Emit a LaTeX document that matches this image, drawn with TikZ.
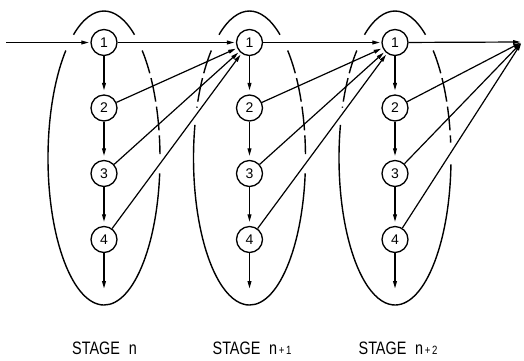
\documentclass[tikz,border=0pt]{standalone}
\usepackage{fontspec}
\setmainfont{Liberation Sans}
\usetikzlibrary{arrows.meta,calc}
\begin{document}
\begin{tikzpicture}[x=1pt,y=-1pt,
  state/.style={circle,draw,fill=white,minimum size=26pt,inner sep=0pt,
    line width=1.3pt,font=\fontsize{14}{14}\selectfont},
  flow/.style={line width=1.2pt,-{Triangle[length=7.5pt,width=3.8pt]},shorten >=1.5pt},
  down/.style={flow,shorten >=4pt},
  loopline/.style={line width=1.4pt},
  hidden/.style={loopline,dash pattern=on 24pt off 5pt},
  stagelabel/.style={font=\fontsize{18}{18}\selectfont}
]
\useasboundingbox (0,0) rectangle (524,360);

% stage loops: solid top arc, solid front part, dashed part behind the arrow fan
% stage n
\draw[loopline] (104,158) ++(-123:56 and 147) arc[start angle=-123,end angle=-57,x radius=56,y radius=147];
\draw[loopline] (104,158) ++(6:56 and 147) arc[start angle=6,end angle=227,x radius=56,y radius=147];
\draw[hidden] (104,158) ++(-47:56 and 147) arc[start angle=-47,end angle=-1.5,x radius=56,y radius=147];
% stage n+1
\draw[loopline] (249.5,158) ++(-123:56 and 147) arc[start angle=-123,end angle=-57,x radius=56,y radius=147];
\draw[loopline] (249.5,158) ++(6:56 and 147) arc[start angle=6,end angle=193,x radius=56,y radius=147];
\draw[hidden] (249.5,158) ++(-47:56 and 147) arc[start angle=-47,end angle=-1.5,x radius=56,y radius=147];
\draw[hidden] (249.5,158) ++(227:56 and 147) arc[start angle=227,end angle=200,x radius=56,y radius=147];
% stage n+2
\draw[loopline] (395,158) ++(-123:56 and 147) arc[start angle=-123,end angle=-57,x radius=56,y radius=147];
\draw[loopline] (395,158) ++(2.5:56 and 147) arc[start angle=2.5,end angle=193,x radius=56,y radius=147];
\draw[hidden] (395,158) ++(-47:56 and 147) arc[start angle=-47,end angle=-6,x radius=56,y radius=147];
\draw[hidden] (395,158) ++(227:56 and 147) arc[start angle=227,end angle=200,x radius=56,y radius=147];

% nodes of the three stages
\foreach \s/\x in {a/104,b/249.5,c/395} {
  \foreach \i/\y in {1/42.5,2/108,3/173.5,4/239.5}
    \node[state] (\s\i) at (\x,\y) {\i};
  \coordinate (\s out) at (\x,290);
}
\coordinate (in) at (6,42.5);
\coordinate (target) at (522,42);

% flow inside each stage
\foreach \s in {a,b,c} {
  \draw[down] (\s1) -- (\s2);
  \draw[down] (\s2) -- (\s3);
  \draw[down] (\s3) -- (\s4);
  \draw[flow] (\s4) -- (\s out);
}

% flow between stages
\draw[flow] (in) -- (a1);
\foreach \i in {1,2,3,4} {
  \draw[flow] (a\i) -- (b1);
  \draw[flow] (b\i) -- (c1);
  \draw[flow] (c\i) -- (target);
}

% stage labels
\node[stagelabel] (la) at (104.5,348) {\scalebox{0.8}[1]{STAGE\hspace{11pt}n}};
\node[stagelabel] (lb) at (252,348) {\scalebox{0.8}[1]{STAGE\hspace{11pt}n{\fontsize{12}{12}\selectfont\,+\,1}}};
\node[stagelabel] (lc) at (398,348) {\scalebox{0.8}[1]{STAGE\hspace{11pt}n{\fontsize{12}{12}\selectfont\,+\,2}}};
\end{tikzpicture}
\end{document}
